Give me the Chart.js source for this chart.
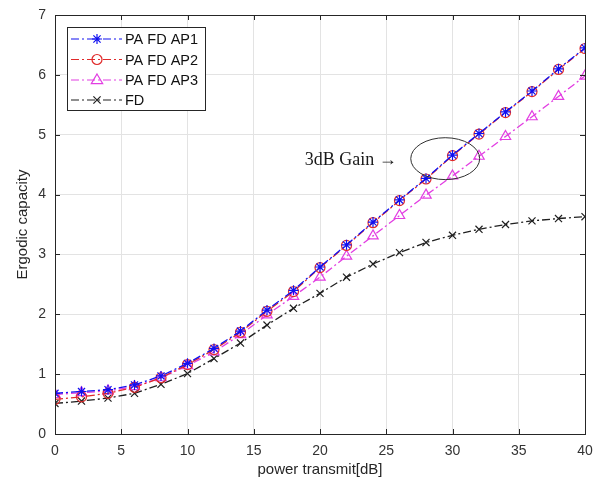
<!DOCTYPE html>
<html>
<head>
<meta charset="utf-8">
<script src="https://cdn.jsdelivr.net/npm/chart.js@4/dist/chart.umd.min.js"></script>
<style>
  html, body { margin: 0; padding: 0; background: #ffffff; }
  #wrap { width: 598px; height: 485px; position: relative; }
</style>
</head>
<body>
<div id="wrap"><canvas id="cap"></canvas></div>
<script>
// Transmit power (dB) sampled every 2 dB
const powerDb = [0, 2, 4, 6, 8, 10, 12, 14, 16, 18, 20, 22, 24, 26, 28, 30, 32, 34, 36, 38, 40];

// Ergodic capacity per scheme
const paFdAp1 = [0.68, 0.71, 0.74, 0.82, 0.97, 1.18, 1.43, 1.72, 2.07, 2.40, 2.79, 3.16, 3.54, 3.91, 4.27, 4.66, 5.02, 5.38, 5.73, 6.10, 6.45];
const paFdAp2 = [0.58, 0.62, 0.68, 0.78, 0.94, 1.16, 1.41, 1.70, 2.05, 2.38, 2.78, 3.15, 3.53, 3.90, 4.26, 4.65, 5.01, 5.37, 5.72, 6.09, 6.44];
const paFdAp3 = [0.66, 0.69, 0.72, 0.79, 0.94, 1.14, 1.37, 1.66, 1.99, 2.30, 2.62, 2.97, 3.31, 3.65, 3.99, 4.31, 4.64, 4.97, 5.30, 5.64, 5.98];
const fdOnly  = [0.51, 0.55, 0.60, 0.68, 0.83, 1.01, 1.26, 1.52, 1.82, 2.10, 2.35, 2.62, 2.84, 3.03, 3.20, 3.32, 3.42, 3.50, 3.56, 3.60, 3.63];

const xTicks = [0, 5, 10, 15, 20, 25, 30, 35, 40];
const yTicks = [0, 1, 2, 3, 4, 5, 6, 7];

const seriesNames = ['PA FD AP1', 'PA FD AP2', 'PA FD AP3', 'FD'];
const seriesColors = ['#1010f0', '#e02a2a', '#e23ee2', '#202020'];
const seriesMarkers = ['star', 'circle', 'triangle', 'crossRot'];
const seriesRadius = [5, 5, 6, 5];
const seriesValues = [paFdAp1, paFdAp2, paFdAp3, fdOnly];

const dashDot = [8, 3, 2, 3];
const axisFont = "'Liberation Sans', Arial, sans-serif";

const datasets = seriesValues.map((vals, i) => ({
  label: seriesNames[i],
  data: powerDb.map((x, k) => ({ x: x, y: vals[k] })),
  borderColor: seriesColors[i],
  backgroundColor: 'rgba(0,0,0,0)',
  borderWidth: 1.3,
  borderDash: dashDot,
  pointStyle: seriesMarkers[i],
  pointRadius: seriesRadius[i],
  pointBorderColor: seriesColors[i],
  pointBackgroundColor: 'rgba(0,0,0,0)',
  pointBorderWidth: 1.2,
  tension: 0,
  fill: false
}));

// small marker painter used by the legend
function drawMarker(ctx, style, x, y, r, color) {
  ctx.save();
  ctx.strokeStyle = color;
  ctx.lineWidth = 1.2;
  ctx.setLineDash([]);
  ctx.beginPath();
  if (style === 'circle') {
    ctx.arc(x, y, r, 0, Math.PI * 2);
  } else if (style === 'triangle') {
    ctx.moveTo(x, y - r);
    ctx.lineTo(x + r * 0.95, y + r * 0.6);
    ctx.lineTo(x - r * 0.95, y + r * 0.6);
    ctx.closePath();
  } else if (style === 'crossRot') {
    const d = r * 0.72;
    ctx.moveTo(x - d, y - d); ctx.lineTo(x + d, y + d);
    ctx.moveTo(x + d, y - d); ctx.lineTo(x - d, y + d);
  } else if (style === 'star') {
    const d = r * 0.72;
    ctx.moveTo(x, y - r); ctx.lineTo(x, y + r);
    ctx.moveTo(x - r, y); ctx.lineTo(x + r, y);
    ctx.moveTo(x - d, y - d); ctx.lineTo(x + d, y + d);
    ctx.moveTo(x + d, y - d); ctx.lineTo(x - d, y + d);
  }
  ctx.stroke();
  ctx.restore();
}

const framePlugin = {
  id: 'frame',
  afterDatasetsDraw(chart) {
    const { ctx, chartArea: a, scales } = chart;
    ctx.save();
    // inward tick marks
    ctx.strokeStyle = '#262626';
    ctx.lineWidth = 1;
    xTicks.forEach(v => {
      const px = Math.round(scales.x.getPixelForValue(v)) + 0.5;
      ctx.beginPath();
      ctx.moveTo(px, a.bottom); ctx.lineTo(px, a.bottom - 5);
      ctx.moveTo(px, a.top); ctx.lineTo(px, a.top + 5);
      ctx.stroke();
    });
    yTicks.forEach(v => {
      const py = Math.round(scales.y.getPixelForValue(v)) + 0.5;
      ctx.beginPath();
      ctx.moveTo(a.left, py); ctx.lineTo(a.left + 5, py);
      ctx.moveTo(a.right, py); ctx.lineTo(a.right - 5, py);
      ctx.stroke();
    });
    // axes box
    ctx.strokeRect(Math.round(a.left) + 0.5, Math.round(a.top) + 0.5,
                   Math.round(a.right - a.left), Math.round(a.bottom - a.top));

    // gain annotation: ellipse around the 30 dB point and its label
    const cx = scales.x.getPixelForValue(29.45);
    const cy = scales.y.getPixelForValue(4.6);
    const rx = scales.x.getPixelForValue(32.05) - cx;
    const ry = cy - scales.y.getPixelForValue(4.95);
    ctx.strokeStyle = '#303030';
    ctx.lineWidth = 1;
    ctx.beginPath();
    ctx.ellipse(cx, cy, rx, ry, 0, 0, Math.PI * 2);
    ctx.stroke();
    ctx.fillStyle = '#1a1a1a';
    ctx.font = "18px 'Liberation Serif', 'Times New Roman', serif";
    ctx.textAlign = 'right';
    ctx.textBaseline = 'middle';
    ctx.fillText('3dB Gain \u2192', scales.x.getPixelForValue(25.8), scales.y.getPixelForValue(4.58));

    // legend box
    const lx = 67, ly = 27, lw = 138, lh = 83;
    ctx.fillStyle = '#ffffff';
    ctx.fillRect(lx, ly, lw, lh);
    ctx.strokeStyle = '#262626';
    ctx.strokeRect(lx + 0.5, ly + 0.5, lw, lh);
    const rowY = [39, 59.5, 80, 100];
    ctx.font = "14.5px " + axisFont;
    ctx.textAlign = 'left';
    ctx.textBaseline = 'middle';
    seriesNames.forEach((name, i) => {
      const y = rowY[i];
      ctx.strokeStyle = seriesColors[i];
      ctx.lineWidth = 1.2;
      ctx.setLineDash(dashDot);
      ctx.beginPath();
      ctx.moveTo(71, y); ctx.lineTo(122, y);
      ctx.stroke();
      ctx.setLineDash([]);
      drawMarker(ctx, seriesMarkers[i], 97, y, seriesRadius[i], seriesColors[i]);
      ctx.fillStyle = '#111111';
      ctx.fillText(name, 125, y + 1);
    });
    ctx.restore();
  }
};

new Chart(document.getElementById('cap'), {
  type: 'line',
  data: { datasets: datasets },
  options: {
    responsive: true,
    maintainAspectRatio: false,
    animation: false,
    devicePixelRatio: 1,
    layout: { padding: { left: 0, right: 13, top: 15, bottom: 0 } },
    plugins: {
      legend: { display: false },
      tooltip: { enabled: false }
    },
    scales: {
      x: {
        type: 'linear',
        min: 0, max: 40,
        afterBuildTicks: s => { s.ticks = xTicks.map(v => ({ value: v })); },
        afterFit: s => { s.height = 51; s.paddingLeft = 0; s.paddingRight = 0; },
        grid: { color: '#e3e3e3', lineWidth: 1, drawTicks: false },
        border: { display: false },
        ticks: { color: '#333333', font: { family: axisFont, size: 14 }, padding: 9, maxRotation: 0 },
        title: { display: true, text: 'power transmit[dB]', color: '#262626',
                 font: { family: axisFont, size: 15 }, padding: { top: 0, bottom: 6 } }
      },
      y: {
        type: 'linear',
        min: 0, max: 7,
        afterBuildTicks: s => { s.ticks = yTicks.map(v => ({ value: v })); },
        afterFit: s => { s.width = 55; s.paddingTop = 0; s.paddingBottom = 0; },
        grid: { color: '#e3e3e3', lineWidth: 1, drawTicks: false },
        border: { display: false },
        ticks: { color: '#333333', font: { family: axisFont, size: 14 }, padding: 9 },
        title: { display: true, text: 'Ergodic capacity', color: '#262626',
                 font: { family: axisFont, size: 15 }, padding: { top: 14, bottom: 0 } }
      }
    }
  },
  plugins: [framePlugin]
});
</script>
</body>
</html>
